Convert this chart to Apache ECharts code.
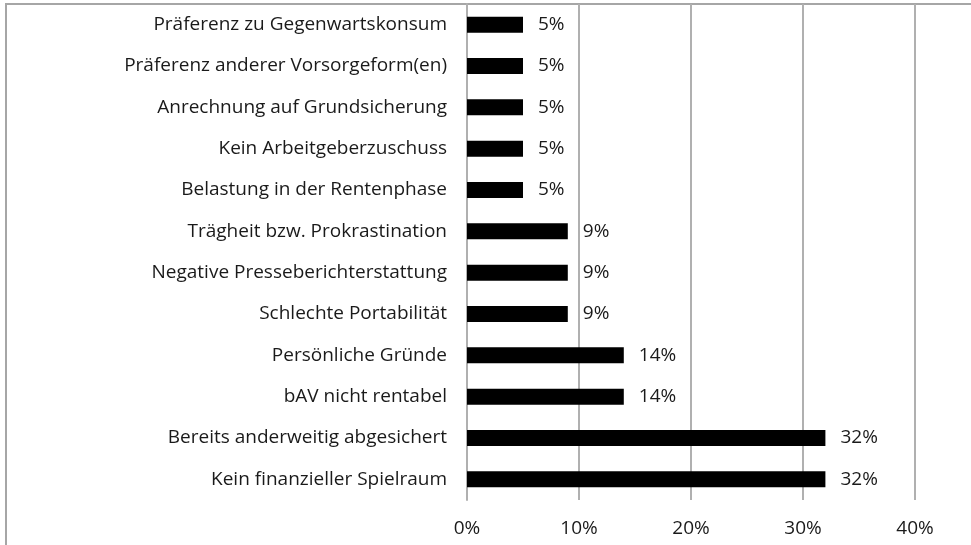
<!DOCTYPE html>
<html>
<head>
<meta charset="utf-8">
<script src="https://cdn.jsdelivr.net/npm/echarts@6/dist/echarts.min.js"></script>
<style>
  html, body { margin: 0; padding: 0; background: #fff; overflow: hidden; }
  #frame { position: absolute; left: 5px; top: 3px; width: 1000px; height: 600px; border: 2px solid #a6a6a6; box-sizing: border-box; }
  #chart { position: absolute; left: 0; top: 0; width: 971px; height: 545px; }
</style>
</head>
<body>
<div id="frame"></div>
<div id="chart"></div>
<script>
// bottom to top, as the category axis draws them
const categories = [
  "Kein finanzieller Spielraum",
  "Bereits anderweitig abgesichert",
  "bAV nicht rentabel",
  "Persönliche Gründe",
  "Schlechte Portabilität",
  "Negative Presseberichterstattung",
  "Trägheit bzw. Prokrastination",
  "Belastung in der Rentenphase",
  "Kein Arbeitgeberzuschuss",
  "Anrechnung auf Grundsicherung",
  "Präferenz anderer Vorsorgeform(en)",
  "Präferenz zu Gegenwartskonsum"
];
const shares = [32, 32, 14, 14, 9, 9, 9, 5, 5, 5, 5, 5];
const ticks = [0, 10, 20, 30, 40];

const chart = echarts.init(document.getElementById("chart"));
const font = "'Open Sans', sans-serif";

chart.setOption({
  animation: false,
  grid: { left: 467, right: 56, top: 4, bottom: 45, containLabel: false },
  xAxis: {
    type: "value",
    min: ticks[0],
    max: ticks[ticks.length - 1],
    interval: 10,
    axisLine: { show: false },
    axisTick: { show: false },
    splitLine: { show: true, lineStyle: { color: "#b0b0b0", width: 2 } },
    axisLabel: { formatter: "{value}%", color: "#1a1a1a", fontSize: 19, fontFamily: font, margin: 19 }
  },
  yAxis: {
    type: "category",
    data: categories,
    axisLine: { show: true, lineStyle: { color: "#b0b0b0", width: 2 } },
    axisTick: { show: false },
    axisLabel: { color: "#1a1a1a", fontSize: 19, fontFamily: font, margin: 20 }
  },
  series: [
    {
      type: "bar",
      data: shares,
      barWidth: 16,
      itemStyle: { color: "#000" },
      label: {
        show: true,
        position: "right",
        distance: 15,
        formatter: "{c}%",
        color: "#1a1a1a",
        fontSize: 19,
        fontFamily: font
      }
    }
  ]
});
</script>
</body>
</html>
